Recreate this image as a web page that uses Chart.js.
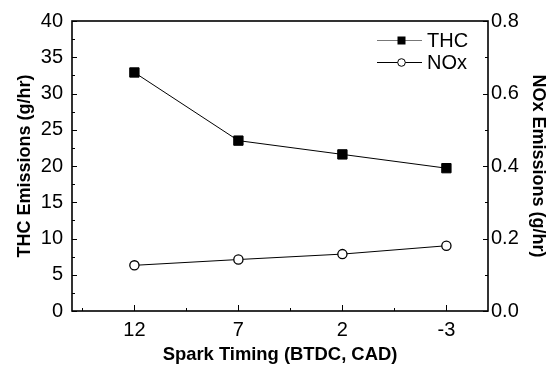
<!DOCTYPE html>
<html>
<head>
<meta charset="utf-8">
<script src="https://cdn.jsdelivr.net/npm/chart.js@4/dist/chart.umd.min.js"></script>
<style>
html,body{margin:0;padding:0;background:#fff;}
#wrap{width:554px;height:368px;position:relative;}
</style>
</head>
<body>
<div id="wrap"><canvas id="c" width="554" height="368"></canvas></div>
<script>
// ---- data ----
const sparkTiming = [12, 7, 2, -3];
const thcValues = [32.9, 23.5, 21.6, 19.7];
const noxValues = [0.126, 0.142, 0.157, 0.180];
const xTickValues = [12, 7, 2, -3];
const xMinorValues = [14.5, 9.5, 4.5, -0.5];
const leftTickValues = [0, 5, 10, 15, 20, 25, 30, 35, 40];
const rightTickValues = [0.0, 0.2, 0.4, 0.6, 0.8];
const seriesNames = ['THC', 'NOx'];
const xTitle = 'Spark Timing (BTDC, CAD)';
const leftTitle = 'THC Emissions (g/hr)';
const rightTitle = 'NOx Emissions (g/hr)';

const FONT = "'Liberation Sans', Arial, sans-serif";

const framePlugin = {
  id: 'frameTicks',
  afterDatasetsDraw(chart) {
    const {ctx, chartArea: a, scales} = chart;
    ctx.save();
    ctx.strokeStyle = '#000';
    ctx.lineWidth = 1;
    const line = (x1, y1, x2, y2) => { ctx.beginPath(); ctx.moveTo(x1, y1); ctx.lineTo(x2, y2); ctx.stroke(); };
    const y = scales.y, y2 = scales.y2, x = scales.x;
    for (let i = 0; i < leftTickValues.length; i++) {
      const v = leftTickValues[i];
      const p = Math.round(y.getPixelForValue(v)) + 0.5;
      line(a.left, p, a.left + 5, p);
      if (i < leftTickValues.length - 1) {
        const m = Math.round(y.getPixelForValue((v + leftTickValues[i + 1]) / 2)) + 0.5;
        line(a.left, m, a.left + 3, m);
      }
    }
    for (let i = 0; i < rightTickValues.length; i++) {
      const v = rightTickValues[i];
      const p = Math.round(y2.getPixelForValue(v)) + 0.5;
      line(a.right, p, a.right - 5, p);
      if (i < rightTickValues.length - 1) {
        const m = Math.round(y2.getPixelForValue((v + rightTickValues[i + 1]) / 2)) + 0.5;
        line(a.right, m, a.right - 3, m);
      }
    }
    xTickValues.forEach(v => {
      const p = Math.round(x.getPixelForValue(v)) + 0.5;
      line(p, a.bottom, p, a.bottom - 6);
    });
    xMinorValues.forEach(v => {
      const p = Math.round(x.getPixelForValue(v)) + 0.5;
      line(p, a.bottom, p, a.bottom - 3);
    });
    // frame
    ctx.lineWidth = 1.6;
    ctx.strokeRect(a.left, a.top, a.right - a.left, a.bottom - a.top);

    // legend
    const rows = [
      {name: seriesNames[0], yy: a.top + 19.5, marker: 'rect', lineColor: '#777'},
      {name: seriesNames[1], yy: a.top + 41.5, marker: 'circle', lineColor: '#000'}
    ];
    ctx.font = '20px ' + FONT;
    ctx.textBaseline = 'middle';
    rows.forEach(r => {
      ctx.strokeStyle = r.lineColor;
      ctx.lineWidth = 1;
      line(377, r.yy, 422, r.yy);
      ctx.strokeStyle = '#000';
      if (r.marker === 'rect') {
        ctx.fillStyle = '#000';
        ctx.fillRect(397.5, r.yy - 4, 8, 8);
      } else {
        ctx.beginPath();
        ctx.arc(401.5, r.yy, 3.8, 0, Math.PI * 2);
        ctx.fillStyle = '#fff';
        ctx.fill();
        ctx.lineWidth = 1;
        ctx.stroke();
      }
      ctx.fillStyle = '#000';
      ctx.fillText(r.name, 427, r.yy + 1);
    });
    ctx.restore();
  }
};

new Chart(document.getElementById('c'), {
  type: 'scatter',
  data: {
    datasets: [
      {
        label: seriesNames[0],
        data: sparkTiming.map((t, i) => ({x: t, y: thcValues[i]})),
        yAxisID: 'y',
        showLine: true,
        borderColor: '#000',
        borderWidth: 1,
        pointStyle: 'rect',
        pointRadius: 6.6,
        pointBackgroundColor: '#000',
        pointBorderColor: '#000',
        pointBorderWidth: 1
      },
      {
        label: seriesNames[1],
        data: sparkTiming.map((t, i) => ({x: t, y: noxValues[i]})),
        yAxisID: 'y2',
        showLine: true,
        borderColor: '#000',
        borderWidth: 1,
        pointStyle: 'circle',
        pointRadius: 4.6,
        pointBackgroundColor: '#fff',
        pointBorderColor: '#000',
        pointBorderWidth: 1.3
      }
    ]
  },
  options: {
    responsive: false,
    animation: false,
    devicePixelRatio: 1,
    layout: {padding: {top: 19, left: 0, right: 0, bottom: 0}},
    plugins: {legend: {display: false}, tooltip: {enabled: false}},
    scales: {
      x: {
        type: 'linear',
        position: 'bottom',
        reverse: true,
        min: -5,
        max: 15,
        afterBuildTicks: s => { s.ticks = xTickValues.map(v => ({value: v})); },
        afterFit: s => { s.height = 57; },
        grid: {display: false, drawTicks: false},
        border: {display: false},
        ticks: {color: '#000', font: {family: FONT, size: 20}, padding: 7, maxRotation: 0, autoSkip: false,
          callback: v => String(v)},
        title: {display: true, text: xTitle, color: '#000', font: {family: FONT, size: 18.4, weight: 'bold'}, padding: {top: 2, bottom: 2}}
      },
      y: {
        type: 'linear',
        position: 'left',
        min: 0, max: 40,
        afterBuildTicks: s => { s.ticks = leftTickValues.map(v => ({value: v})); },
        afterFit: s => { s.width = 72; },
        grid: {display: false, drawTicks: false},
        border: {display: false},
        ticks: {color: '#000', font: {family: FONT, size: 20}, padding: 9, callback: v => String(v)},
        title: {display: true, text: leftTitle, color: '#000', font: {family: FONT, size: 18, weight: 'bold'}, padding: {top: 14, bottom: 14}}
      },
      y2: {
        type: 'linear',
        position: 'right',
        min: 0, max: 0.8,
        afterBuildTicks: s => { s.ticks = rightTickValues.map(v => ({value: v})); },
        afterFit: s => { s.width = 66; },
        grid: {display: false, drawTicks: false},
        border: {display: false},
        ticks: {color: '#000', font: {family: FONT, size: 20}, padding: 3, callback: v => v.toFixed(1)},
        title: {display: true, text: rightTitle, color: '#000', font: {family: FONT, size: 18, weight: 'bold'}, padding: {top: 5, bottom: 5}}
      }
    }
  },
  plugins: [framePlugin]
});
</script>
</body>
</html>
